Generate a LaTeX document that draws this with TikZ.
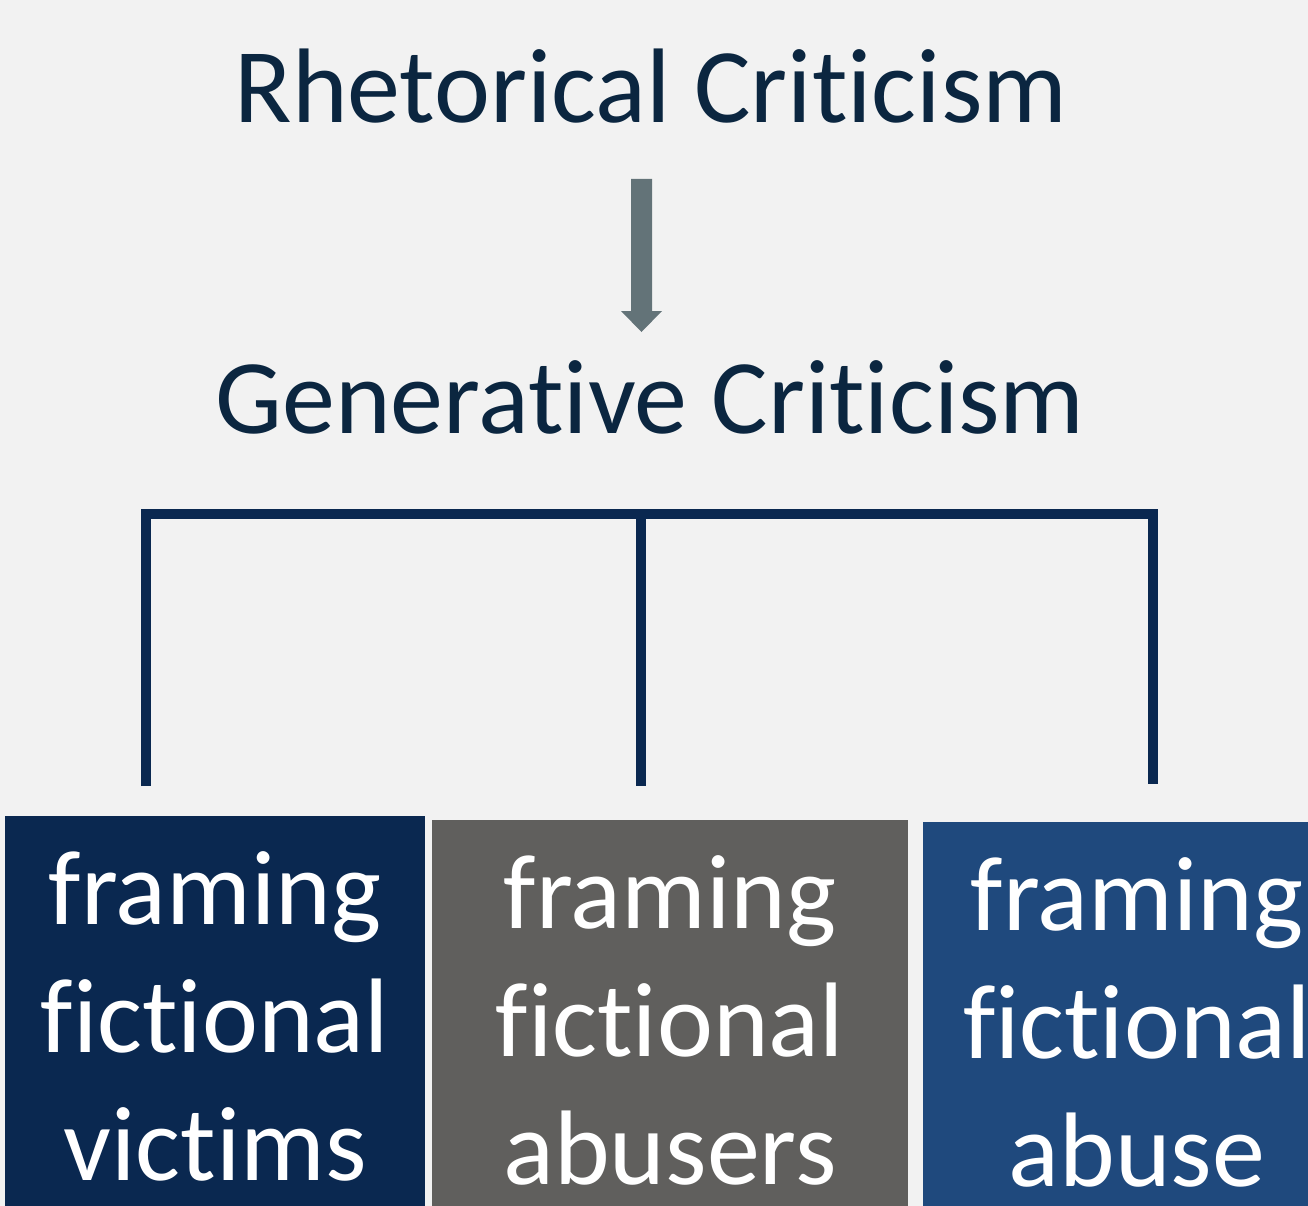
\documentclass[tikz,border=0pt]{standalone}
\usepackage{fontspec}
\setmainfont[Ligatures=NoCommon]{Carlito}
\definecolor{bgc}{HTML}{F2F2F2}
\definecolor{titlec}{HTML}{0B2640}
\definecolor{bracketc}{HTML}{0A2850}
\definecolor{boxa}{HTML}{0A2850}
\definecolor{boxb}{HTML}{605F5D}
\definecolor{boxc}{HTML}{1F497D}
\definecolor{arrowc}{HTML}{637378}
\begin{document}
\begin{tikzpicture}[x=1pt,y=1pt,
  titletext/.style={inner sep=0pt,anchor=base,text=titlec,font=\fontsize{106}{120}\selectfont},
  boxshape/.style={draw=none,inner sep=0pt,anchor=north west},
  boxtext/.style={inner sep=0pt,anchor=north,text=white,align=center,font=\fontsize{106}{128}\selectfont},
  bracketline/.style={draw=bracketc,line width=10pt,line join=miter,line cap=butt}]
\useasboundingbox (0,0) rectangle (1308,-1206);
\clip (0,0) rectangle (1308,-1206);
\fill[bgc] (0,0) rectangle (1308,-1206);
% titles
\node[titletext] (rc) at (651,-123) {Rhetorical Criticism};
\node[titletext] (gc) at (650,-433) {Generative Criticism};
% arrow
\coordinate (atop) at (641.5,-179);
\coordinate (atip) at (641.5,-332);
\fill[arrowc] ([xshift=-10.5pt]atop) -- ([xshift=10.5pt]atop) -- ([xshift=10.5pt,yshift=21pt]atip)
  -- ([xshift=20.5pt,yshift=21pt]atip) -- (atip) -- ([xshift=-20.5pt,yshift=21pt]atip)
  -- ([xshift=-10.5pt,yshift=21pt]atip) -- cycle;
% boxes
\node[boxshape,fill=boxa,minimum width=420pt,minimum height=420pt] (b1) at (5,-816) {};
\node[boxshape,fill=boxb,minimum width=476pt,minimum height=420pt] (b2) at (432,-820) {};
\node[boxshape,fill=boxc,minimum width=428pt,minimum height=420pt] (b3) at (923,-822) {};
\node[boxtext] (t1) at (215,-851) {framing\\fictional\\victims};
\node[boxtext] (t2) at (670,-855) {framing\\fictional\\abusers};
\node[boxtext] (t3) at (1137,-857) {framing\\fictional\\abuse};
% bracket
\coordinate (l1) at (146,-786);
\coordinate (m1) at (641,-786);
\coordinate (r1) at (1152.5,-784);
\coordinate (hl) at (146,-514);
\coordinate (hm) at (641,-514);
\coordinate (hr) at (1152.5,-514);
\draw[bracketline] (l1) -- (hl) -- (hr) -- (r1);
\draw[bracketline] (hm) -- (m1);
\end{tikzpicture}
\end{document}
